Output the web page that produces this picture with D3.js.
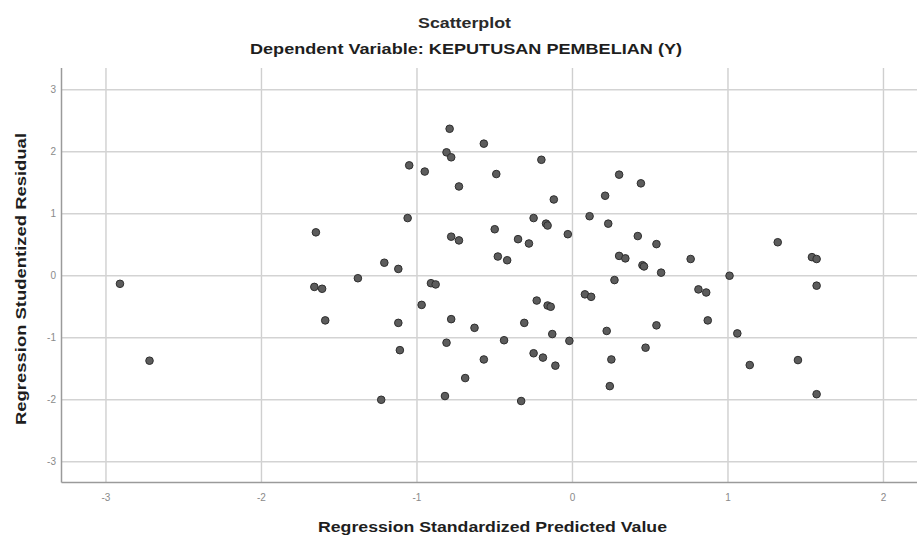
<!DOCTYPE html>
<html>
<head>
<meta charset="utf-8">
<script src="https://cdn.jsdelivr.net/npm/d3@7"></script>
<style>
  body { margin: 0; background: #fff; }
  svg { display: block; font-family: "Liberation Sans", Arial, sans-serif; }
</style>
</head>
<body>
<div id="chart"></div>
<script>
// standardized predicted value (x) and studentized residual (y)
const predicted = [
  -2.91, -2.72, -0.79, -0.57, -0.81, -0.78, -0.20, -1.05, -0.95, -0.49,
  -0.73, -0.12, -1.06, -0.25, -0.17, -0.16, 0.11, -1.65, -0.50, -0.03,
  -0.78, -0.73, -0.35, -0.28, -0.48, -0.42, -1.21, -1.12, -1.38, -1.66,
  -1.61, -0.91, -0.88, 0.08, 0.12, -0.23, -0.16, -0.14, -0.97, -1.59,
  -1.12, -0.78, -0.63, -0.31, -0.13, -0.02, -0.44, -0.81, -1.11, -0.25,
  -0.19, -0.11, -0.57, -0.69, -1.23, -0.82, -0.33, 0.30, 0.44, 0.21,
  0.23, 0.42, 0.54, 1.32, 0.76, 0.30, 0.34, 0.45, 0.46, 0.57,
  1.01, 0.27, 1.54, 1.57, 1.57, 0.81, 0.86, 0.87, 0.54, 0.22,
  1.06, 0.47, 0.25, 1.14, 1.45, 0.24, 1.57
];
const residual = [
  -0.13, -1.37, 2.37, 2.13, 1.99, 1.91, 1.87, 1.78, 1.68, 1.64,
  1.44, 1.23, 0.93, 0.93, 0.84, 0.81, 0.96, 0.70, 0.75, 0.67,
  0.63, 0.57, 0.59, 0.52, 0.31, 0.25, 0.21, 0.11, -0.04, -0.18,
  -0.21, -0.12, -0.14, -0.30, -0.34, -0.40, -0.48, -0.50, -0.47, -0.72,
  -0.76, -0.70, -0.84, -0.76, -0.94, -1.05, -1.04, -1.08, -1.20, -1.25,
  -1.32, -1.45, -1.35, -1.65, -2.00, -1.94, -2.02, 1.63, 1.49, 1.29,
  0.84, 0.64, 0.51, 0.54, 0.27, 0.32, 0.28, 0.17, 0.15, 0.05,
  0.00, -0.07, 0.30, 0.27, -0.16, -0.22, -0.27, -0.72, -0.80, -0.89,
  -0.93, -1.16, -1.35, -1.44, -1.36, -1.78, -1.91
];
const xTicks = [-3, -2, -1, 0, 1, 2];
const yTicks = [-3, -2, -1, 0, 1, 2, 3];

const points = predicted.map((d, i) => ({ x: d, y: residual[i] }));

const width = 917;
const height = 536;
const plot = { left: 61.5, right: 925, top: 68, bottom: 482.5 };

const svg = d3.select("#chart")
    .append("svg")
    .attr("width", width)
    .attr("height", height);

const x = d3.scaleLinear()
    .domain([-3.286, 2.267])
    .range([plot.left, plot.right]);

const y = d3.scaleLinear()
    .domain([-3.334, 3.35])
    .range([plot.bottom, plot.top]);

// grid
svg.append("g")
    .selectAll("line")
    .data(xTicks)
    .enter().append("line")
    .attr("x1", d => x(d)).attr("x2", d => x(d))
    .attr("y1", plot.top).attr("y2", plot.bottom)
    .attr("stroke", "#cfcfcf")
    .attr("stroke-width", 1.4);

svg.append("g")
    .selectAll("line")
    .data(yTicks)
    .enter().append("line")
    .attr("x1", plot.left).attr("x2", plot.right)
    .attr("y1", d => y(d)).attr("y2", d => y(d))
    .attr("stroke", "#d3d3d3")
    .attr("stroke-width", 1.4);

// axis lines
svg.append("line")
    .attr("x1", plot.left).attr("x2", plot.left)
    .attr("y1", plot.top).attr("y2", plot.bottom)
    .attr("stroke", "#9a9a9a").attr("stroke-width", 1.5);
svg.append("line")
    .attr("x1", plot.left).attr("x2", plot.right)
    .attr("y1", plot.bottom).attr("y2", plot.bottom)
    .attr("stroke", "#9a9a9a").attr("stroke-width", 1.5);

// tick labels
svg.append("g")
    .selectAll("text")
    .data(yTicks)
    .enter().append("text")
    .attr("x", 56)
    .attr("y", d => y(d) + 3.5)
    .attr("text-anchor", "end")
    .style("font-size", "10px")
    .style("fill", "#8a8a8a")
    .text(d => d);

svg.append("g")
    .selectAll("text")
    .data(xTicks)
    .enter().append("text")
    .attr("x", d => x(d))
    .attr("y", 500.5)
    .attr("text-anchor", "middle")
    .style("font-size", "10px")
    .style("fill", "#8a8a8a")
    .text(d => d);

// points
svg.append("g")
    .selectAll("circle")
    .data(points)
    .enter().append("circle")
    .attr("cx", d => x(d.x))
    .attr("cy", d => y(d.y))
    .attr("r", 3.8)
    .attr("fill", "#5c5c5c")
    .attr("stroke", "#2e2e2e")
    .attr("stroke-width", 1);

// titles
svg.append("text")
    .attr("x", 464.5).attr("y", 28)
    .attr("text-anchor", "middle")
    .attr("textLength", 93).attr("lengthAdjust", "spacingAndGlyphs")
    .style("font-size", "14px").style("font-weight", "bold").style("fill", "#2a2a2a")
    .text("Scatterplot");

svg.append("text")
    .attr("x", 466).attr("y", 53.5)
    .attr("text-anchor", "middle")
    .attr("textLength", 432).attr("lengthAdjust", "spacingAndGlyphs")
    .style("font-size", "15px").style("font-weight", "bold").style("fill", "#1e1e1e")
    .text("Dependent Variable: KEPUTUSAN PEMBELIAN (Y)");

svg.append("text")
    .attr("x", 492.5).attr("y", 531.5)
    .attr("text-anchor", "middle")
    .attr("textLength", 349).attr("lengthAdjust", "spacingAndGlyphs")
    .style("font-size", "15px").style("font-weight", "bold").style("fill", "#1e1e1e")
    .text("Regression Standardized Predicted Value");

svg.append("text")
    .attr("transform", "translate(26,279) rotate(-90)")
    .attr("text-anchor", "middle")
    .attr("textLength", 292).attr("lengthAdjust", "spacingAndGlyphs")
    .style("font-size", "15px").style("font-weight", "bold").style("fill", "#1e1e1e")
    .text("Regression Studentized Residual");
</script>
</body>
</html>
